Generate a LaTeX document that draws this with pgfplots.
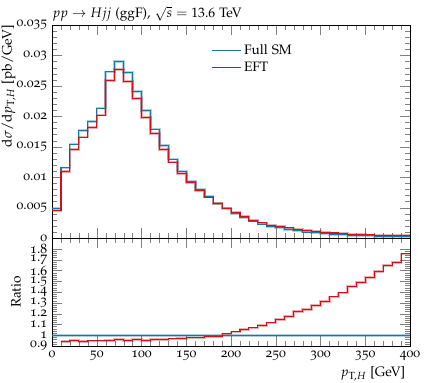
\documentclass[border=0pt]{standalone}
\usepackage[T1]{fontenc}
\usepackage[osf]{mathpazo}
\usepackage{pgfplots}
\pgfplotsset{compat=1.18}

\definecolor{smblue}{RGB}{24,120,158}
\definecolor{eftred}{RGB}{204,18,28}

% bin left edge, value (last row closes the 390-400 bin)
\pgfplotsset{
  rivet/.style={
    scale only axis, width=261.3bp,
    xmin=0, xmax=400,
    xtick={0,50,...,400}, minor x tick num=4,
    tick align=inside,
    major tick length=7.3bp, minor tick length=3.6bp,
    /pgf/number format/assume math mode=true,
    scaled y ticks=false,
    yticklabel style={/pgf/number format/fixed, /pgf/number format/precision=3},
  },
  halo/.style={line width=1.9bp, opacity=0.35, const plot mark left, forget plot},
}

\begin{document}
\begin{tikzpicture}
\begin{axis}[
    rivet, name=main,
    height=155.5bp,
    ymin=0, ymax=0.035,
    ytick={0,0.005,0.01,0.015,0.02,0.025,0.03,0.035},
    minor y tick num=4,
    xticklabels={},
    legend style={draw=none, fill=none, at={(axis cs:173,0.0328)}, anchor=north west,
        row sep=0bp, /tikz/every even column/.append style={column sep=2.9bp}},
    legend cell align=left,
    legend image code/.code={\draw[#1, line width=0.75bp] (0bp,0bp) -- (21.2bp,0bp);},
]
\addplot[halo, smblue] coordinates {
(0,0.00493) (10,0.01155) (20,0.01545) (30,0.0177) (40,0.0192) (50,0.02136)
(60,0.0273) (70,0.02903) (80,0.02722) (90,0.02404) (100,0.02092) (110,0.01791)
(120,0.01523) (130,0.01298) (140,0.01101) (150,0.00937) (160,0.0080) (170,0.0068)
(180,0.0057) (190,0.00488) (200,0.00406) (210,0.0034) (220,0.00278) (230,0.0023)
(240,0.0019) (250,0.0017) (260,0.00143) (270,0.00118) (280,0.0010) (290,0.00085)
(300,0.00072) (310,0.00062) (320,0.00053) (330,0.00046) (340,0.0004) (350,0.00035)
(360,0.00031) (370,0.00028) (380,0.00025) (390,0.00023) (400,0.00023)
};
\addplot[halo, eftred] coordinates {
(0,0.00449) (10,0.0109) (20,0.0146) (30,0.0166) (40,0.0182) (50,0.0202)
(60,0.0259) (70,0.0277) (80,0.0257) (90,0.0229) (100,0.0198) (110,0.0172)
(120,0.0146) (130,0.0125) (140,0.0106) (150,0.00915) (160,0.00782) (170,0.00673)
(180,0.00566) (190,0.00494) (200,0.00419) (210,0.00358) (220,0.00297) (230,0.00251)
(240,0.00212) (250,0.00195) (260,0.00168) (270,0.00144) (280,0.00124) (290,0.00108)
(300,0.00095) (310,0.00084) (320,0.00074) (330,0.00067) (340,0.0006) (350,0.00054)
(360,0.00049) (370,0.00046) (380,0.00042) (390,0.0004) (400,0.0004)
};
\addplot[const plot mark left, smblue, line width=0.75bp] coordinates {
(0,0.00493) (10,0.01155) (20,0.01545) (30,0.0177) (40,0.0192) (50,0.02136)
(60,0.0273) (70,0.02903) (80,0.02722) (90,0.02404) (100,0.02092) (110,0.01791)
(120,0.01523) (130,0.01298) (140,0.01101) (150,0.00937) (160,0.0080) (170,0.0068)
(180,0.0057) (190,0.00488) (200,0.00406) (210,0.0034) (220,0.00278) (230,0.0023)
(240,0.0019) (250,0.0017) (260,0.00143) (270,0.00118) (280,0.0010) (290,0.00085)
(300,0.00072) (310,0.00062) (320,0.00053) (330,0.00046) (340,0.0004) (350,0.00035)
(360,0.00031) (370,0.00028) (380,0.00025) (390,0.00023) (400,0.00023)
};
\addlegendentry{Full SM}
\addplot[const plot mark left, eftred, line width=0.75bp] coordinates {
(0,0.00449) (10,0.0109) (20,0.0146) (30,0.0166) (40,0.0182) (50,0.0202)
(60,0.0259) (70,0.0277) (80,0.0257) (90,0.0229) (100,0.0198) (110,0.0172)
(120,0.0146) (130,0.0125) (140,0.0106) (150,0.00915) (160,0.00782) (170,0.00673)
(180,0.00566) (190,0.00494) (200,0.00419) (210,0.00358) (220,0.00297) (230,0.00251)
(240,0.00212) (250,0.00195) (260,0.00168) (270,0.00144) (280,0.00124) (290,0.00108)
(300,0.00095) (310,0.00084) (320,0.00074) (330,0.00067) (340,0.0006) (350,0.00054)
(360,0.00049) (370,0.00046) (380,0.00042) (390,0.0004) (400,0.0004)
};
\addlegendentry{EFT}
\end{axis}

\begin{axis}[
    rivet, name=ratio,
    at={(main.south west)}, anchor=north west,
    height=78.8bp,
    ymin=0.9, ymax=1.9,
    ytick={0.9,1,1.1,1.2,1.3,1.4,1.5,1.6,1.7,1.8},
    minor y tick num=4,
    yticklabel style={/pgf/number format/precision=1},
    ylabel={Ratio},
    xlabel={$p_{\mathrm{T},H}$ [GeV]},
    xlabel style={at={(rel axis cs:1,0)}, anchor=north east, yshift=-11.7bp},
]
\addplot[halo, smblue] coordinates {(0,1) (400,1)};
\addplot[halo, eftred] coordinates {
(10,0.944) (20,0.951) (30,0.942) (40,0.948) (50,0.948) (60,0.951) (70,0.96)
(80,0.951) (90,0.96) (100,0.951) (110,0.963) (120,0.96) (130,0.966) (140,0.969)
(150,0.975) (160,0.975) (170,0.99) (180,0.99) (190,1.013) (200,1.031) (210,1.053)
(220,1.068) (230,1.09) (240,1.115) (250,1.145) (260,1.176) (270,1.219) (280,1.24)
(290,1.275) (300,1.315) (310,1.355) (320,1.392) (330,1.454) (340,1.49) (350,1.537)
(360,1.59) (370,1.645) (380,1.676) (390,1.754) (400,1.754)
};
\addplot[smblue, line width=0.75bp] coordinates {(0,1) (400,1)};
\addplot[const plot mark left, eftred, line width=0.75bp] coordinates {
(10,0.944) (20,0.951) (30,0.942) (40,0.948) (50,0.948) (60,0.951) (70,0.96)
(80,0.951) (90,0.96) (100,0.951) (110,0.963) (120,0.96) (130,0.966) (140,0.969)
(150,0.975) (160,0.975) (170,0.99) (180,0.99) (190,1.013) (200,1.031) (210,1.053)
(220,1.068) (230,1.09) (240,1.115) (250,1.145) (260,1.176) (270,1.219) (280,1.24)
(290,1.275) (300,1.315) (310,1.355) (320,1.392) (330,1.454) (340,1.49) (350,1.537)
(360,1.59) (370,1.645) (380,1.676) (390,1.754) (400,1.754)
};
\end{axis}

\node[anchor=base west, inner sep=0pt] at ([yshift=5.3bp]main.north west)
  {$pp \rightarrow Hjj$ (ggF), $\sqrt{s} = 13.6$ TeV};
\node[rotate=90, anchor=south east, inner sep=0pt] at ([xshift=-26.3bp]main.north west)
  {$\mathrm{d}\sigma/\mathrm{d}p_{\mathrm{T},H}$ [pb/GeV]};

\pgfresetboundingbox
\path[use as bounding box] ([xshift=-38bp,yshift=-26.3bp]ratio.south west)
  rectangle ([xshift=10.2bp,yshift=18.3bp]main.north east);
\end{tikzpicture}
\end{document}
